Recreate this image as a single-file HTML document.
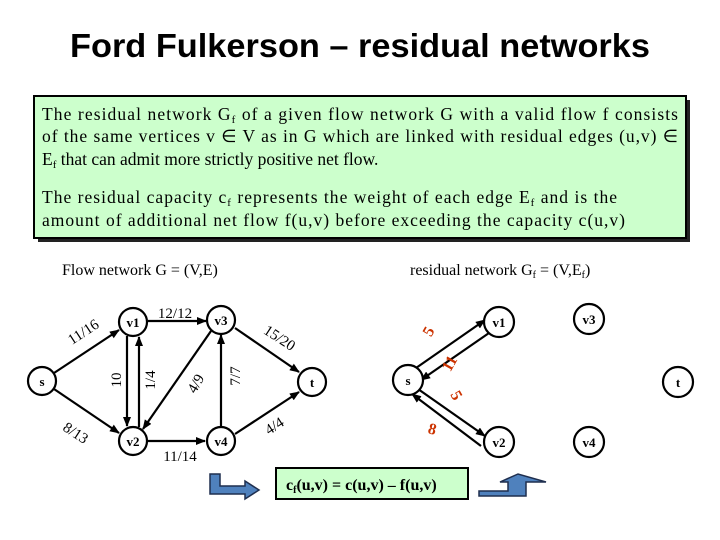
<!DOCTYPE html>
<html><head><meta charset="utf-8"><style>
body{margin:0;background:#fff;}
svg{display:block;}
</style></head><body>
<svg width="720" height="540" viewBox="0 0 720 540" xmlns="http://www.w3.org/2000/svg">
<defs>
<marker id="a" markerWidth="10" markerHeight="8" refX="9" refY="4" orient="auto" markerUnits="userSpaceOnUse">
<path d="M0,0 L10,4 L0,8 z" fill="#000"/></marker>
</defs>
<text x="360" y="57" text-anchor="middle" font-family="Liberation Sans, sans-serif" font-weight="bold" font-size="33" textLength="580" lengthAdjust="spacingAndGlyphs">Ford Fulkerson – residual networks</text>
<rect x="38" y="100" width="652" height="142" fill="#222"/>
<rect x="34" y="96" width="652" height="142" fill="#ccffcc" stroke="#000" stroke-width="2"/>
<g font-family="Liberation Serif, serif" font-size="17.5">
<text x="42" y="120" textLength="636" lengthAdjust="spacing">The residual network G<tspan font-size="11" dy="3">f</tspan><tspan dy="-3"> of a given flow network G with a valid flow f consists</tspan></text>
<text x="42" y="142" textLength="636" lengthAdjust="spacing">of the same vertices v ∈ V as in G which are linked with residual edges (u,v) ∈</text>
<text x="42" y="165">E<tspan font-size="11" dy="3">f</tspan><tspan dy="-3"> that can admit more strictly positive net flow.</tspan></text>
<text x="42" y="203" textLength="575" lengthAdjust="spacing">The residual capacity c<tspan font-size="11" dy="3">f</tspan><tspan dy="-3"> represents the weight of each edge E</tspan><tspan font-size="11" dy="3">f</tspan><tspan dy="-3"> and is the</tspan></text>
<text x="42" y="226" textLength="583" lengthAdjust="spacing">amount of additional net flow f(u,v) before exceeding the capacity c(u,v)</text>
</g>
<g font-family="Liberation Serif, serif" font-size="16">
<text x="62" y="275">Flow network G = (V,E)</text>
<text x="410" y="275">residual network G<tspan font-size="10" dy="3">f</tspan><tspan dy="-3"> = (V,E</tspan><tspan font-size="10" dy="3">f</tspan><tspan dy="-3">)</tspan></text>
</g>
<g stroke="#000" stroke-width="2.2" fill="none" marker-end="url(#a)">
<line x1="54" y1="373" x2="119" y2="330"/>
<line x1="54" y1="389" x2="119" y2="433"/>
<line x1="127" y1="336" x2="127" y2="426"/>
<line x1="139" y1="427" x2="139" y2="337"/>
<line x1="148" y1="321" x2="206" y2="321"/>
<line x1="211" y1="331" x2="143" y2="429"/>
<line x1="221" y1="427" x2="221" y2="335"/>
<line x1="235" y1="328" x2="299" y2="372"/>
<line x1="235" y1="434" x2="299" y2="392"/>
<line x1="148" y1="441" x2="205" y2="441"/>
</g>
<g stroke="#000" stroke-width="2.2" fill="#fff">
<circle cx="42" cy="381" r="14"/><circle cx="133" cy="322" r="14"/><circle cx="221" cy="320" r="14"/>
<circle cx="312" cy="382" r="14"/><circle cx="133" cy="441" r="14"/><circle cx="221" cy="441" r="14"/>
</g>
<g font-family="Liberation Serif, serif" font-weight="bold" font-size="13" text-anchor="middle">
<text x="42" y="386">s</text><text x="133" y="327">v1</text><text x="221" y="325">v3</text>
<text x="312" y="387">t</text><text x="133" y="446">v2</text><text x="221" y="446">v4</text>
</g>
<g font-family="Liberation Serif, serif" font-size="15" text-anchor="middle">
<text transform="translate(86,336) rotate(-33)">11/16</text>
<text transform="translate(73,437) rotate(33)">8/13</text>
<text transform="translate(121,380) rotate(-90)">10</text>
<text transform="translate(155,380) rotate(-90)">1/4</text>
<text x="175" y="318">12/12</text>
<text transform="translate(200,386) rotate(-60)">4/9</text>
<text transform="translate(240,376) rotate(-90)">7/7</text>
<text transform="translate(277,342) rotate(33)">15/20</text>
<text transform="translate(277,430) rotate(-33)">4/4</text>
<text x="180" y="461">11/14</text>
</g>
<g stroke="#000" stroke-width="2.2" fill="none" marker-end="url(#a)">
<line x1="416" y1="368" x2="485" y2="320"/>
<line x1="489" y1="333" x2="421" y2="380"/>
<line x1="418" y1="389" x2="485" y2="436"/>
<line x1="481" y1="446" x2="412" y2="394"/>
</g>
<g stroke="#000" stroke-width="2.2" fill="#fff">
<circle cx="408" cy="380" r="15"/><circle cx="499" cy="322" r="15"/><circle cx="589" cy="319" r="15"/>
<circle cx="678" cy="382" r="15"/><circle cx="499" cy="442" r="15"/><circle cx="589" cy="442" r="15"/>
</g>
<g font-family="Liberation Serif, serif" font-weight="bold" font-size="13" text-anchor="middle">
<text x="408" y="385">s</text><text x="499" y="327">v1</text><text x="589" y="324">v3</text>
<text x="678" y="387">t</text><text x="499" y="447">v2</text><text x="589" y="447">v4</text>
</g>
<g font-family="Liberation Serif, serif" font-weight="bold" font-size="16" fill="#cc3300" text-anchor="middle">
<text transform="translate(433,334) rotate(-60)">5</text>
<text transform="translate(454,366) rotate(-60)">11</text>
<text transform="translate(452,398) rotate(60)">5</text>
<text transform="translate(431,434) rotate(15)">8</text>
</g>
<rect x="276" y="468" width="192" height="31" fill="#ccffcc" stroke="#000" stroke-width="2"/>
<text x="286" y="490" font-family="Liberation Serif, serif" font-weight="bold" font-size="16">c<tspan font-size="10" dy="3">f</tspan><tspan dy="-3">(u,v) = c(u,v) – f(u,v)</tspan></text>
<path d="M210,474 L220,474 L220,486 L245,486 L245,481 L259,490 L245,499 L245,494 L210,494 z" fill="#4f81bd" stroke="#1f2f4f" stroke-width="1.5"/>
<path d="M479,491 L508,491 L508,482 L500,482 L518,474 L546,482 L526,482 L526,496 L479,496 z" fill="#4f81bd" stroke="#1f2f4f" stroke-width="1.5"/>
</svg>
</body></html>
